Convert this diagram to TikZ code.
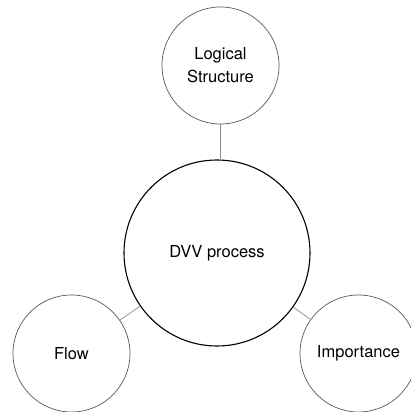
\documentclass[tikz,border=0pt]{standalone}
\usepackage{fontspec}
\setmainfont{TeX Gyre Heros}
\usetikzlibrary{positioning}

\tikzstyle{hub} = [circle, minimum size=186pt, inner sep=0pt, draw=black, line width=1.1pt, align=center, font=\fontsize{16.5}{23}\selectfont]
\tikzstyle{leaf} = [circle, minimum size=117pt, inner sep=0pt, draw=black!65, line width=0.7pt, align=center, font=\fontsize{16.5}{23}\selectfont]
\tikzstyle{link} = [draw=black!45, line width=0.7pt]

\begin{document}
\begin{tikzpicture}[on grid]
    \useasboundingbox (0,0) rectangle (411pt,412pt);
    \clip (0,0) rectangle (411pt,412pt);
    \node (proc) [hub] at (217pt,159pt) {DVV process};
    \node (logic) [leaf, above right=187.5pt and 3.5pt of proc] {Logical\\Structure};
    \node (flow) [leaf, below left=100.5pt and 145.5pt of proc] {Flow};
    \node (imp) [leaf, below right=100.5pt and 141.5pt of proc] {Importance};
    \draw [link] (logic.south) -- (logic.south |- proc.north);
    \draw [link] (flow) -- (proc);
    \draw [link] (imp) -- (proc);
\end{tikzpicture}
\end{document}
